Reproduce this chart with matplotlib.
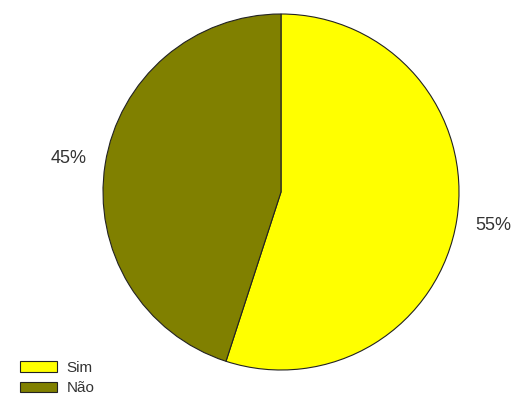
import matplotlib
matplotlib.use("Agg")
import matplotlib.pyplot as plt

labels = ["Sim", "Não"]
shares = [55, 45]
colors = ["#ffff00", "#808000"]

plt.rcParams['font.family'] = ['Liberation Sans', 'DejaVu Sans']

W, H = 511, 397
fig = plt.figure(figsize=(W / 100, H / 100), dpi=100)

# pie centre (281, 192) px from top, radius 178 px
cx, cy, r = 281, H - 192, 178
ax = fig.add_axes([(cx - r) / W, (cy - r) / H, 2 * r / W, 2 * r / H])

wedges, texts, autotexts = ax.pie(
    shares, colors=colors, startangle=90, counterclock=False,
    autopct="%1.0f%%", pctdistance=1.21, radius=1,
    wedgeprops={'edgecolor': '#222222', 'linewidth': 0.8},
    textprops={'fontsize': 13, 'color': '#333333'},
)
ax.set_xlim(-1, 1)
ax.set_ylim(-1, 1)
ax.set_aspect('equal')
ax.axis('off')

fs = 11
px = fs * 100 / 72
fig.legend(wedges, labels, loc='lower left',
           bbox_to_anchor=(12 / W, -6 / H), frameon=False, borderpad=0,
           fontsize=fs, handlelength=37 / px, handleheight=11 / px,
           handletextpad=10 / px, labelspacing=0.43, labelcolor='#333333')

fig.savefig("out.png", dpi=100, facecolor='white')
